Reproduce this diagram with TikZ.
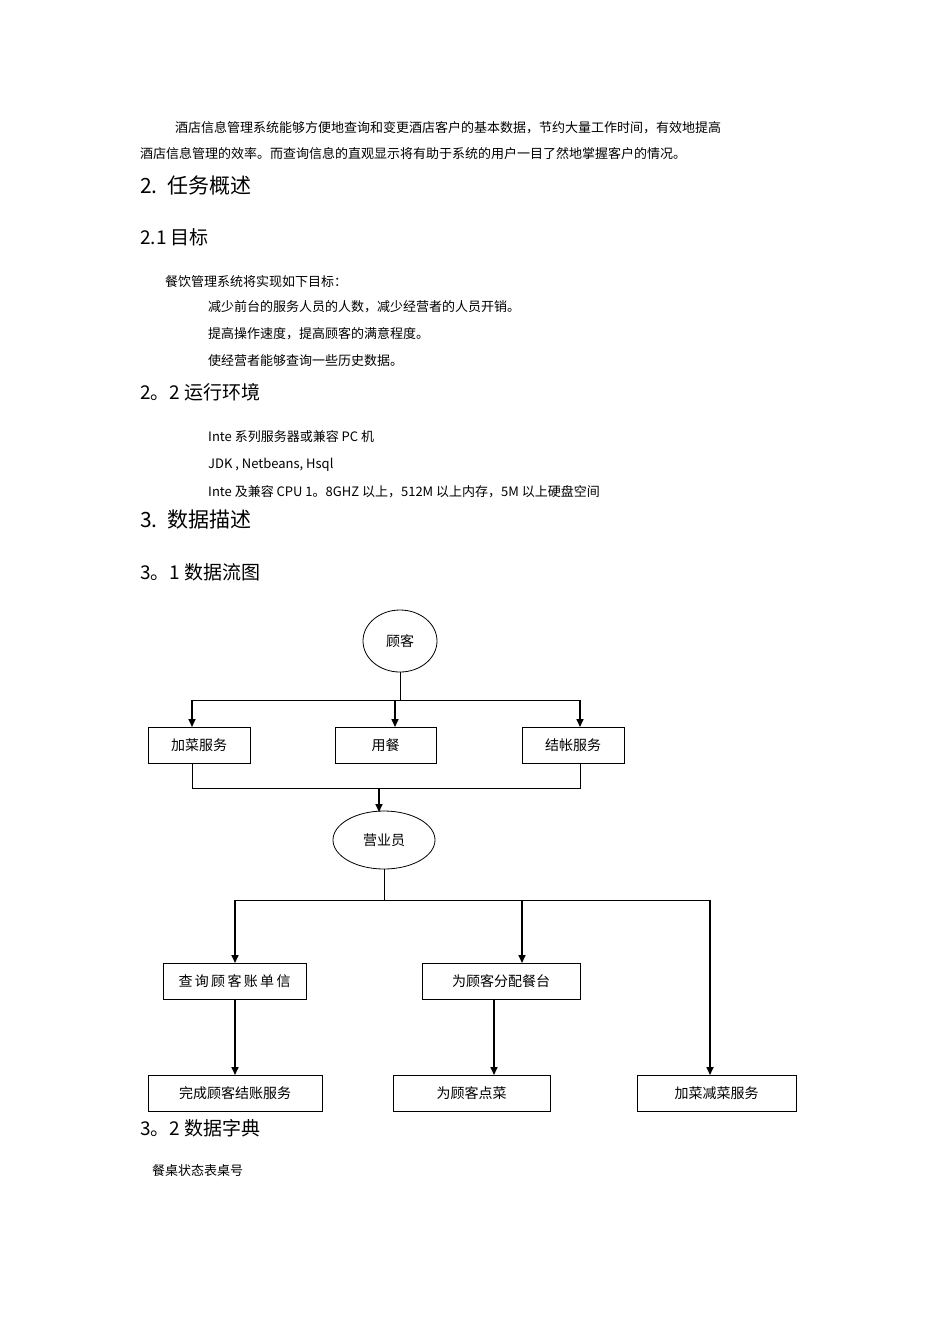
\documentclass[tikz,border=0pt]{standalone}
\usepackage{fontspec}
\setmainfont{Liberation Serif}
\newfontfamily\cjk{Noto Sans CJK SC}
\usetikzlibrary{shapes.geometric,arrows.meta}
\begin{document}
\begin{tikzpicture}[x=1pt,y=-1pt,
  body/.style={anchor=west,inner sep=0pt,font=\cjk\fontsize{13}{13}\selectfont},
  head/.style={anchor=west,inner sep=0pt,font=\cjk\fontsize{21}{21}\selectfont},
  sub/.style={anchor=west,inner sep=0pt,font=\cjk\fontsize{19}{19}\selectfont},
  bx/.style={draw,line width=0.8pt,minimum height=36pt,inner sep=0pt,font=\cjk\fontsize{14}{14}\selectfont},
  el/.style={draw,ellipse,line width=0.8pt,inner sep=0pt,font=\cjk\fontsize{14}{14}\selectfont},
  ln/.style={line width=0.8pt},
  ar/.style={line width=1.6pt,-{Triangle[length=8pt,width=7pt]}}]
\useasboundingbox[fill=white] (0,0) rectangle (950,1344);
\node[body] (t1) at (175,128) {酒店信息管理系统能够方便地查询和变更酒店客户的基本数据，节约大量工作时间，有效地提高};
\node[body] (t2) at (140,154) {酒店信息管理的效率。而查询信息的直观显示将有助于系统的用户一目了然地掌握客户的情况。};
\node[head] (h2) at (140,186) {2.\ \ 任务概述};
\node[sub] (h21) at (140,237) {2.1 目标};
\node[body] (g0) at (165,282) {餐饮管理系统将实现如下目标：};
\node[body] (g1) at (208,307) {减少前台的服务人员的人数，减少经营者的人员开销。};
\node[body] (g2) at (208,334) {提高操作速度，提高顾客的满意程度。};
\node[body] (g3) at (208,361) {使经营者能够查询一些历史数据。};
\node[sub] (h22) at (140,392) {2。2 运行环境};
\node[body] (e1) at (208,437) {Inte 系列服务器或兼容 PC 机};
\node[body] (e2) at (208,465) {JDK , Netbeans, Hsql};
\node[body] (e3) at (208,492) {Inte 及兼容 CPU 1。8GHZ 以上，512M 以上内存，5M 以上硬盘空间};
\node[head] (h3) at (140,520) {3.\ \ 数据描述};
\node[sub] (h31) at (140,572) {3。1 数据流图};
\node[sub] (h32) at (140,1128) {3。2 数据字典};
\node[body] (d1) at (152,1171) {餐桌状态表桌号};

\node[el,minimum width=74pt,minimum height=62pt] (gk) at (400,641) {顾客};
\node[bx,minimum width=102pt] (b1) at (199,745) {加菜服务};
\node[bx,minimum width=101pt] (b2) at (385.5,745) {用餐};
\node[bx,minimum width=102pt] (b3) at (573,745) {结帐服务};
\node[el,minimum width=102pt,minimum height=58pt] (yy) at (384,840) {营业员};
\node[bx,minimum width=143pt] (c1) at (234.5,981.5) {查\,询\,顾\,客\,账\,单\,信};
\node[bx,minimum width=158pt] (c2) at (501,981.5) {为顾客分配餐台};
\node[bx,minimum width=174pt] (d1b) at (235,1093.5) {完成顾客结账服务};
\node[bx,minimum width=157pt] (d2) at (471.5,1093.5) {为顾客点菜};
\node[bx,minimum width=159pt] (d3) at (716.5,1093.5) {加菜减菜服务};

\coordinate (j1) at (400,700);
\draw[ln] (gk.south) -- (j1);
\draw[ln] (192,700) -- (580,700);
\draw[ar] (192,700) -- (192,727);
\draw[ar] (395,700) -- (395,727);
\draw[ar] (580,700) -- (580,727);
\draw[ln] (192,763) -- (192,788) -- (580,788) -- (580,763);
\draw[ar] (379,788) -- (379,812);
\draw[ln] (yy.south) -- (384,900);
\draw[ln] (235,900) -- (710,900);
\draw[ar] (235,900) -- (235,963);
\draw[ar] (522,900) -- (522,963);
\draw[ar] (710,900) -- (710,1075);
\draw[ar] (235,1000) -- (235,1075);
\draw[ar] (494,1000) -- (494,1075);
\end{tikzpicture}
\end{document}
